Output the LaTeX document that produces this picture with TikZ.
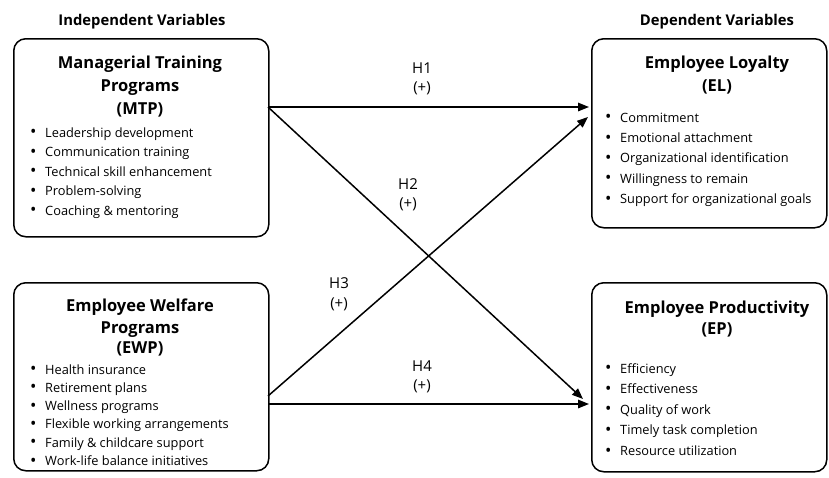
\documentclass[tikz,border=0pt]{standalone}
\usepackage{fontspec}
\setmainfont{Open Sans}
\usetikzlibrary{arrows.meta}
\newcommand{\bul}{\makebox[15pt][l]{\raisebox{-0.6pt}{\fontsize{17}{17}\selectfont •}}}
\begin{document}
\begin{tikzpicture}[x=1pt,y=-1pt,
 box/.style={draw, line width=1.5pt, rounded corners=12pt, inner sep=0pt, anchor=north west},
 ttl/.style={font=\fontsize{16.5}{19}\selectfont\bfseries, anchor=base, inner sep=0pt},
 item/.style={font=\fontsize{12.8}{15}\selectfont, anchor=base west, inner sep=0pt},
 hdr/.style={font=\fontsize{14.8}{17}\selectfont\bfseries, anchor=base, inner sep=0pt},
 lab/.style={font=\fontsize{15}{17}\selectfont, anchor=base, inner sep=0pt},
 arr/.style={line width=1.5pt, -{Triangle[length=11pt,width=8.5pt]}}]
\useasboundingbox (0,0) rectangle (829,477);

% headers
\node[hdr] (hind) at (142,25) {Independent Variables};
\node[hdr] (hdep) at (717,25) {Dependent Variables};

% boxes
\node[box, minimum width=255pt, minimum height=198pt] (mtp) at (13,38) {};
\node[box, minimum width=255pt, minimum height=188pt] (ewp) at (13,282) {};
\node[box, minimum width=235pt, minimum height=189pt] (el) at (591,38) {};
\node[box, minimum width=235pt, minimum height=189pt] (ep) at (591,282) {};

% titles
\node[ttl] (mtpt1) at (140,68) {Managerial Training};
\node[ttl] (mtpt2) at (140,91) {Programs};
\node[ttl] (mtpt3) at (140,114) {(MTP)};
\node[ttl] (ewpt1) at (140,311) {Employee Welfare};
\node[ttl] (ewpt2) at (140,333) {Programs};
\node[ttl] (ewpt3) at (140,353) {(EWP)};
\node[ttl] (elt1) at (717,68) {Employee Loyalty};
\node[ttl] (elt2) at (717,91) {(EL)};
\node[ttl] (ept1) at (717,313) {Employee Productivity};
\node[ttl] (ept2) at (717,334) {(EP)};

% bullet lists
\foreach \t [count=\i] in {Leadership development, Communication training, Technical skill enhancement, Problem-solving, Coaching \& mentoring}
  \node[item] (mtpi\i) at (30,{137+19.5*(\i-1)}) {\bul\t};
\foreach \t [count=\i] in {Health insurance, Retirement plans, Wellness programs, Flexible working arrangements, Family \& childcare support, Work-life balance initiatives}
  \node[item] (ewpi\i) at (30,{374+18.3*(\i-1)}) {\bul\t};
\foreach \t [count=\i] in {Commitment, Emotional attachment, Organizational identification, Willingness to remain, Support for organizational goals}
  \node[item] (eli\i) at (605,{122+20.4*(\i-1)}) {\bul\t};
\foreach \t [count=\i] in {Efficiency, Effectiveness, Quality of work, Timely task completion, Resource utilization}
  \node[item] (epi\i) at (605,{373+20.6*(\i-1)}) {\bul\t};

% connector end points
\coordinate (s1) at (268,107);
\coordinate (e1) at (589,107);
\coordinate (e2) at (583,399);
\coordinate (s3) at (268,396);
\coordinate (e3) at (588,117);
\coordinate (s4) at (268,404);
\coordinate (e4) at (589,404);

\draw[arr] (s1) -- (e1);
\draw[arr] (s1) -- (e2);
\draw[arr] (s3) -- (e3);
\draw[arr] (s4) -- (e4);

% labels
\node[lab] (h1) at (422,73) {H1};
\node[lab] (p1) at (422,92) {(+)};
\node[lab] (h2) at (408,189) {H2};
\node[lab] (p2) at (408,208) {(+)};
\node[lab] (h3) at (339,288) {H3};
\node[lab] (p3) at (339,308) {(+)};
\node[lab] (h4) at (422,371) {H4};
\node[lab] (p4) at (422,390) {(+)};
\end{tikzpicture}
\end{document}
